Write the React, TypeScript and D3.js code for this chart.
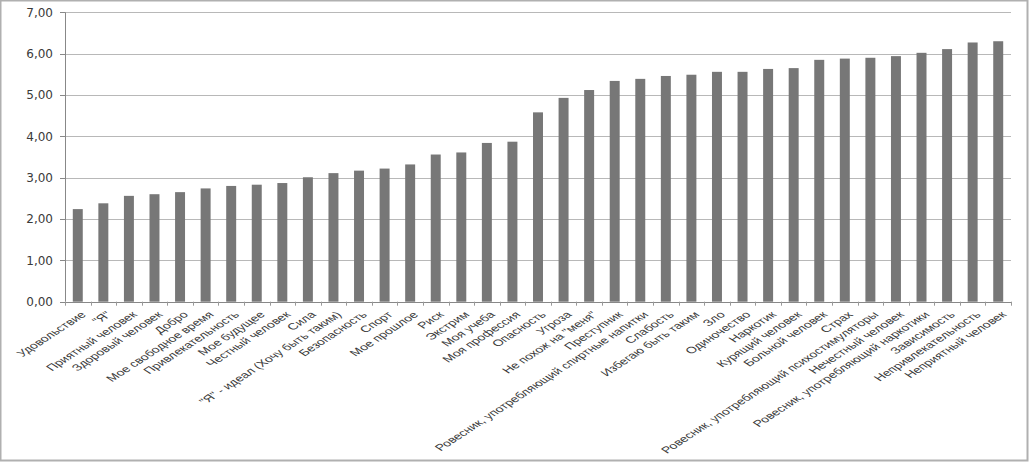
import React from "react";
import * as d3 from "d3";

const categories: string[] = [
  "Удовольствие",
  "\"Я\"",
  "Приятный человек",
  "Здоровый человек",
  "Добро",
  "Мое свободное время",
  "Привлекательность",
  "Мое будущее",
  "Честный человек",
  "Сила",
  "\"Я\" - идеал (Хочу быть таким)",
  "Безопасность",
  "Спорт",
  "Мое прошлое",
  "Риск",
  "Экстрим",
  "Моя учеба",
  "Моя профессия",
  "Опасность",
  "Угроза",
  "Не похож на \"меня\"",
  "Преступник",
  "Ровесник, употребляющий спиртные напитки",
  "Слабость",
  "Избегаю быть таким",
  "Зло",
  "Одиночество",
  "Наркотик",
  "Курящий человек",
  "Больной человек",
  "Страх",
  "Ровесник, употребляющий психостимуляторы",
  "Нечестный человек",
  "Ровесник, употребляющий наркотики",
  "Зависимость",
  "Непривлекательность",
  "Неприятный человек",
];

const values: number[] = [
  2.24, 2.38, 2.56, 2.6, 2.65, 2.74, 2.8, 2.83, 2.87, 3.01, 3.11, 3.17, 3.22,
  3.32, 3.56, 3.61, 3.84, 3.87, 4.58, 4.93, 5.12, 5.34, 5.39, 5.46, 5.49, 5.56,
  5.56, 5.63, 5.65, 5.85, 5.88, 5.9, 5.94, 6.02, 6.11, 6.27, 6.3,
];

const yTicks: number[] = [0, 1, 2, 3, 4, 5, 6, 7];

const W = 1029;
const H = 462;

export default function App() {
  const left = 65;
  const right = 1011;
  const top = 12.3;
  const bottom = 301.7;

  const x = d3
    .scaleBand<string>()
    .domain(categories)
    .range([left, right])
    .paddingInner(0.61)
    .paddingOuter(0.305);
  const step = x.step();
  const y = d3.scaleLinear().domain([0, 7]).range([bottom, top]);
  const fmt = (v: number) => d3.format(".2f")(v).replace(".", ",");

  const textColor = "#3a3a3a";

  return (
    <svg
      width={W}
      height={H}
      style={{ position: "absolute", left: 0, top: 0, background: "#fff" }}
    >
      <rect x={0.5} y={0.5} width={W - 2} height={H - 2} fill="#fff" stroke="#b0b0b0" strokeWidth={2} />
      {/* gridlines */}
      {yTicks.map((t) => (
        <line
          key={"g" + t}
          x1={left}
          x2={right}
          y1={Math.round(y(t)) + 0.5}
          y2={Math.round(y(t)) + 0.5}
          stroke={t === 0 ? "#888" : "#b8b8b8"}
          strokeWidth={1}
        />
      ))}
      {/* y ticks */}
      {yTicks.map((t) => (
        <g key={"yt" + t}>
          <line
            x1={left - 5}
            x2={left}
            y1={Math.round(y(t)) + 0.5}
            y2={Math.round(y(t)) + 0.5}
            stroke="#888"
          />
          <text
            x={53}
            y={y(t)}
            dy="0.35em"
            textAnchor="end"
            fontFamily="DejaVu Sans"
            fontSize={12}
            fill={textColor}
          >
            {fmt(t)}
          </text>
        </g>
      ))}
      {/* bars */}
      {categories.map((c, i) => (
        <rect
          key={"b" + i}
          x={x(c)!}
          y={y(values[i])}
          width={x.bandwidth()}
          height={y(0) - y(values[i])}
          fill="#777777"
        />
      ))}
      {/* y axis */}
      <line x1={left + 0.5} x2={left + 0.5} y1={top} y2={bottom} stroke="#888" />
      {/* x ticks */}
      {d3.range(categories.length + 1).map((i) => (
        <line
          key={"xt" + i}
          x1={Math.round(left + i * step) + 0.5}
          x2={Math.round(left + i * step) + 0.5}
          y1={bottom}
          y2={bottom + 4}
          stroke="#999"
        />
      ))}
      {/* x labels */}
      {categories.map((c, i) => {
        const cx = x(c)! + x.bandwidth() / 2 + 2;
        return (
          <text
            key={"xl" + i}
            transform={`translate(${cx},${bottom + 9}) scale(1.53,1) rotate(-45)`}
            textAnchor="end"
            dy="0.7em"
            fontFamily="Liberation Sans"
            fontSize={9.2}
            fill={textColor}
          >
            {c}
          </text>
        );
      })}
    </svg>
  );
}
